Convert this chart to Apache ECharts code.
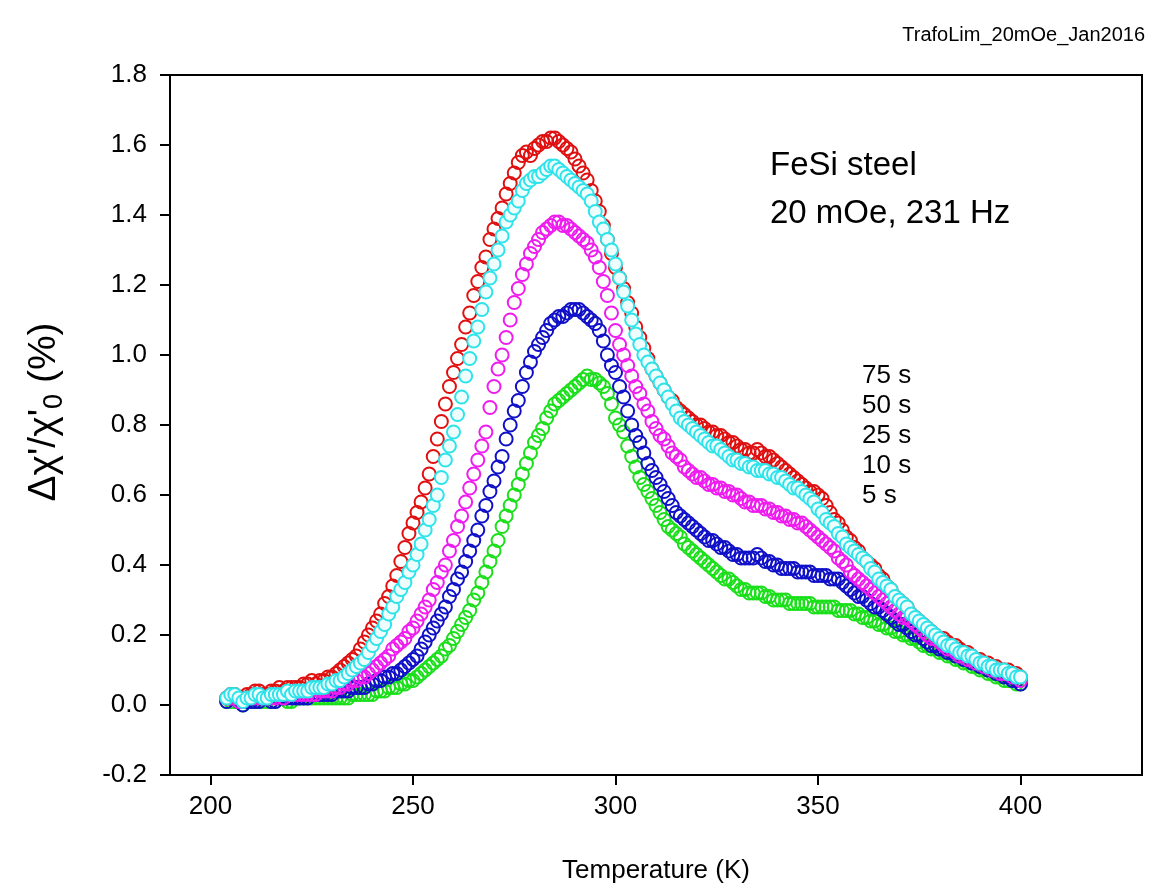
<!DOCTYPE html>
<html>
<head>
<meta charset="utf-8">
<script src="https://cdn.jsdelivr.net/npm/echarts@6/dist/echarts.min.js"></script>
<style>html,body{margin:0;padding:0;background:#fff}#c{width:1155px;height:891px}</style>
</head>
<body>
<div id="c"></div>
<script>
// Temperature (K)
var temps = [204,205,206,207,208,209,
210,211,212,213,214,215,216,217,218,219,
220,221,222,223,224,225,226,227,228,229,
230,231,232,233,234,235,236,237,238,239,
240,241,242,243,244,245,246,247,248,249,
250,251,252,253,254,255,256,257,258,259,
260,261,262,263,264,265,266,267,268,269,
270,271,272,273,274,275,276,277,278,279,
280,281,282,283,284,285,286,287,288,289,
290,291,292,293,294,295,296,297,298,299,
300,301,302,303,304,305,306,307,308,309,
310,311,312,313,314,315,316,317,318,319,
320,321,322,323,324,325,326,327,328,329,
330,331,332,333,334,335,336,337,338,339,
340,341,342,343,344,345,346,347,348,349,
350,351,352,353,354,355,356,357,358,359,
360,361,362,363,364,365,366,367,368,369,
370,371,372,373,374,375,376,377,378,379,
380,381,382,383,384,385,386,387,388,389,
390,391,392,393,394,395,396,397,398,399,
400];
// 75 s
var s75 = [.02,.03,.03,.02,.02,.03,
.03,.04,.04,.03,.03,.04,.04,.05,.04,.05,
.05,.05,.05,.06,.06,.07,.06,.07,.07,.08,
.08,.09,.10,.11,.12,.13,.14,.16,.18,.20,
.22,.24,.26,.29,.31,.34,.37,.41,.45,.49,
.52,.55,.58,.62,.66,.71,.76,.81,.86,.91,
.95,.99,1.03,1.08,1.12,1.17,1.21,1.25,1.28,1.33,
1.36,1.39,1.42,1.46,1.49,1.52,1.55,1.57,1.58,1.57,
1.59,1.60,1.61,1.61,1.62,1.62,1.61,1.60,1.59,1.58,
1.56,1.54,1.52,1.50,1.47,1.44,1.41,1.37,1.33,1.29,
1.25,1.22,1.19,1.15,1.12,1.08,1.05,1.02,.99,.96,
.94,.92,.90,.88,.87,.85,.84,.83,.82,.81,
.80,.80,.79,.78,.78,.77,.77,.76,.75,.75,
.74,.73,.73,.72,.72,.73,.72,.71,.71,.70,
.69,.68,.67,.66,.65,.64,.63,.62,.61,.61,
.60,.59,.57,.55,.53,.52,.50,.48,.47,.45,
.44,.42,.41,.40,.39,.37,.36,.34,.33,.31,
.30,.29,.28,.26,.25,.24,.23,.22,.21,.20,
.19,.19,.18,.17,.17,.16,.15,.15,.14,.13,
.13,.12,.12,.11,.11,.10,.10,.10,.09,.09,
.08];
// 50 s
var s50 = [.02,.03,.03,.02,.01,.02,
.02,.03,.03,.02,.02,.03,.03,.03,.03,.04,
.03,.04,.04,.04,.04,.05,.05,.05,.05,.06,
.06,.07,.07,.08,.09,.10,.11,.12,.13,.15,
.17,.19,.21,.23,.26,.28,.31,.33,.35,.38,
.40,.43,.46,.50,.53,.57,.60,.65,.70,.74,
.78,.83,.88,.94,.99,1.04,1.08,1.13,1.18,1.22,
1.26,1.30,1.34,1.38,1.40,1.42,1.44,1.47,1.49,1.50,
1.51,1.51,1.52,1.53,1.54,1.54,1.53,1.52,1.51,1.50,
1.49,1.48,1.47,1.46,1.44,1.41,1.38,1.36,1.33,1.30,
1.26,1.22,1.18,1.14,1.10,1.06,1.03,1.00,.98,.96,
.94,.92,.90,.88,.86,.84,.82,.81,.80,.79,
.78,.77,.76,.75,.74,.74,.73,.72,.71,.70,
.70,.69,.69,.68,.68,.67,.67,.67,.66,.66,
.65,.65,.64,.63,.62,.62,.61,.60,.59,.58,
.56,.55,.53,.52,.51,.49,.48,.46,.45,.44,
.43,.42,.41,.39,.38,.36,.35,.34,.33,.31,
.30,.29,.28,.26,.25,.24,.23,.22,.21,.20,
.19,.18,.17,.17,.16,.15,.15,.14,.14,.13,
.12,.12,.11,.11,.10,.10,.10,.09,.09,.08,
.08];
// 25 s
var s25 = [.02,.02,.02,.01,.01,.02,
.02,.02,.02,.02,.02,.02,.02,.03,.02,.03,
.03,.03,.03,.03,.03,.03,.03,.04,.04,.04,
.04,.05,.05,.06,.06,.07,.07,.08,.08,.09,
.10,.11,.12,.13,.14,.16,.17,.18,.19,.21,
.22,.24,.26,.28,.30,.33,.35,.38,.40,.44,
.47,.51,.54,.58,.62,.66,.70,.74,.78,.85,
.91,.96,1.00,1.05,1.10,1.15,1.19,1.23,1.26,1.29,
1.31,1.33,1.35,1.36,1.37,1.38,1.38,1.37,1.37,1.36,
1.35,1.34,1.33,1.32,1.30,1.28,1.25,1.21,1.17,1.12,
1.07,1.03,1.00,.97,.94,.91,.89,.86,.84,.81,
.79,.77,.76,.74,.72,.71,.70,.68,.67,.66,
.65,.65,.64,.63,.63,.62,.62,.61,.61,.60,
.60,.59,.58,.58,.57,.57,.57,.56,.56,.55,
.55,.54,.54,.53,.53,.52,.52,.51,.50,.49,
.48,.47,.46,.45,.44,.42,.41,.40,.38,.37,
.36,.35,.34,.33,.32,.31,.30,.29,.28,.27,
.26,.25,.25,.24,.23,.22,.21,.20,.19,.19,
.18,.17,.16,.16,.15,.14,.14,.13,.13,.12,
.12,.11,.11,.10,.10,.09,.09,.09,.08,.08,
.07];
// 10 s
var s10 = [.01,.02,.02,.01,.00,.01,
.01,.01,.01,.02,.02,.01,.01,.02,.02,.02,
.02,.02,.02,.02,.02,.03,.03,.03,.03,.03,
.03,.04,.04,.04,.04,.05,.05,.05,.05,.06,
.06,.07,.07,.08,.08,.09,.09,.10,.11,.12,
.13,.14,.16,.18,.20,.22,.24,.26,.28,.31,
.33,.36,.38,.41,.44,.47,.50,.54,.57,.61,
.64,.68,.71,.76,.80,.84,.87,.91,.95,.98,
1.01,1.03,1.05,1.07,1.09,1.10,1.11,1.11,1.12,1.13,
1.13,1.13,1.12,1.11,1.10,1.09,1.07,1.04,1.00,.97,
.95,.91,.88,.84,.80,.77,.75,.72,.69,.67,
.65,.63,.61,.59,.57,.55,.54,.53,.52,.51,
.50,.49,.48,.47,.47,.46,.45,.45,.44,.43,
.43,.42,.42,.42,.42,.43,.42,.41,.41,.40,
.40,.39,.39,.39,.39,.38,.38,.38,.38,.37,
.37,.37,.37,.36,.36,.36,.35,.34,.33,.32,
.31,.31,.30,.29,.28,.28,.27,.26,.25,.24,
.23,.23,.22,.21,.20,.20,.19,.18,.17,.17,
.16,.16,.15,.15,.14,.14,.13,.13,.12,.12,
.11,.11,.10,.10,.09,.09,.08,.08,.07,.07,
.06];
// 5 s
var s5 = [.01,.01,.01,.01,.00,.01,
.01,.01,.01,.01,.01,.01,.01,.02,.02,.01,
.01,.02,.02,.02,.02,.02,.02,.02,.02,.02,
.02,.02,.02,.02,.02,.03,.03,.03,.03,.03,
.03,.04,.04,.04,.05,.05,.05,.06,.06,.07,
.07,.08,.09,.10,.11,.12,.13,.14,.16,.17,
.19,.21,.23,.25,.27,.30,.32,.35,.38,.41,
.44,.47,.51,.54,.57,.60,.63,.66,.69,.72,
.75,.77,.79,.82,.84,.86,.87,.88,.89,.90,
.91,.92,.93,.94,.93,.93,.92,.91,.89,.86,
.82,.80,.78,.74,.71,.68,.65,.63,.61,.59,
.57,.55,.53,.51,.50,.49,.48,.46,.45,.44,
.43,.42,.41,.40,.39,.38,.37,.36,.36,.35,
.34,.33,.33,.32,.32,.32,.32,.31,.31,.30,
.30,.30,.30,.29,.29,.29,.29,.29,.29,.28,
.28,.28,.28,.28,.28,.27,.27,.27,.27,.26,
.26,.25,.25,.24,.24,.23,.23,.22,.22,.21,
.21,.20,.20,.19,.19,.18,.17,.17,.16,.16,
.15,.15,.14,.14,.13,.13,.12,.12,.11,.11,
.10,.10,.09,.09,.08,.08,.07,.07,.07,.06,
.06];

var xTicks = [200,250,300,350,400];
var legendNames = ['75 s','50 s','25 s','10 s','5 s'];

var FONT = '"Liberation Sans", Arial, sans-serif';
function pairs(arr){ return temps.map(function(t,i){ return [t, arr[i]]; }); }
function mk(name, arr, color, fill, z){
  return {
    name: name, type: 'scatter', symbol: 'circle', symbolSize: 13, z: z,
    data: pairs(arr),
    itemStyle: { color: fill, borderColor: color, borderWidth: 2, opacity: 1 },
    emphasis: { disabled: true }
  };
}

var chart = echarts.init(document.getElementById('c'), null, {renderer: 'canvas'});
chart.setOption({
  animation: false,
  backgroundColor: '#fff',
  textStyle: { fontFamily: FONT },
  title: {
    text: 'TrafoLim_20mOe_Jan2016', right: 5, top: 20,
    textStyle: { fontFamily: FONT, fontSize: 20, fontWeight: 'normal', color: '#000' }
  },
  legend: {
    data: legendNames, orient: 'vertical', left: 857, top: 363,
    icon: 'none', itemWidth: 0, itemHeight: 26, itemGap: 4, padding: 0,
    selectedMode: false,
    textStyle: { fontFamily: FONT, fontSize: 26, color: '#000' }
  },
  grid: { left: 170, right: 13, top: 75, bottom: 116, show: true, borderColor: '#000', borderWidth: 2, backgroundColor: 'transparent' },
  xAxis: {
    type: 'value', min: 190, max: 430, interval: 10,
    name: 'Temperature (K)', nameLocation: 'middle', nameGap: 83,
    nameTextStyle: { fontFamily: FONT, fontSize: 26, color: '#000' },
    axisLine: { show: true, onZero: false, lineStyle: { color: '#000', width: 2 } },
    axisTick: { show: true, inside: false, length: 10, customValues: xTicks, lineStyle: { color: '#000', width: 2 } },
    axisLabel: { customValues: xTicks, fontFamily: FONT, fontSize: 26, color: '#000', margin: 19 },
    splitLine: { show: false }
  },
  yAxis: {
    type: 'value', min: -0.2, max: 1.8, interval: 0.2,
    axisLine: { show: true, onZero: false, lineStyle: { color: '#000', width: 2 } },
    axisTick: { show: true, inside: false, length: 10, lineStyle: { color: '#000', width: 2 } },
    axisLabel: { fontFamily: FONT, fontSize: 26, color: '#000', margin: 23,
      formatter: function(v){ return v.toFixed(1); } },
    splitLine: { show: false }
  },
  graphic: [
    { type: 'text', left: 770, top: 142, z: 100,
      style: { text: 'FeSi steel\n20 mOe, 231 Hz', font: '33px ' + FONT, fill: '#000', lineHeight: 48 } },
    { type: 'text', x: 44, y: 412, rotation: Math.PI / 2, z: 100,
      style: {
        text: '{a|Δχ\'/χ\'}{s|0}{a| (%)}',
        align: 'center', verticalAlign: 'middle', fill: '#000',
        rich: {
          a: { fontFamily: FONT, fontSize: 39, fill: '#000' },
          s: { fontFamily: FONT, fontSize: 27, fill: '#000', padding: [22, 0, 0, 0] }
        }
      } }
  ],
  series: [
    mk('5 s', s5, '#1adf1a', 'rgba(255,255,255,0)', 2),
    mk('10 s', s10, '#1010c8', 'rgba(255,255,255,0)', 3),
    mk('25 s', s25, '#ee1cee', 'rgba(255,255,255,0)', 4),
    mk('75 s', s75, '#e01010', 'rgba(255,255,255,0)', 5),
    mk('50 s', s50, '#2ee3ea', '#eefefe', 6)
  ]
});
</script>
</body>
</html>
